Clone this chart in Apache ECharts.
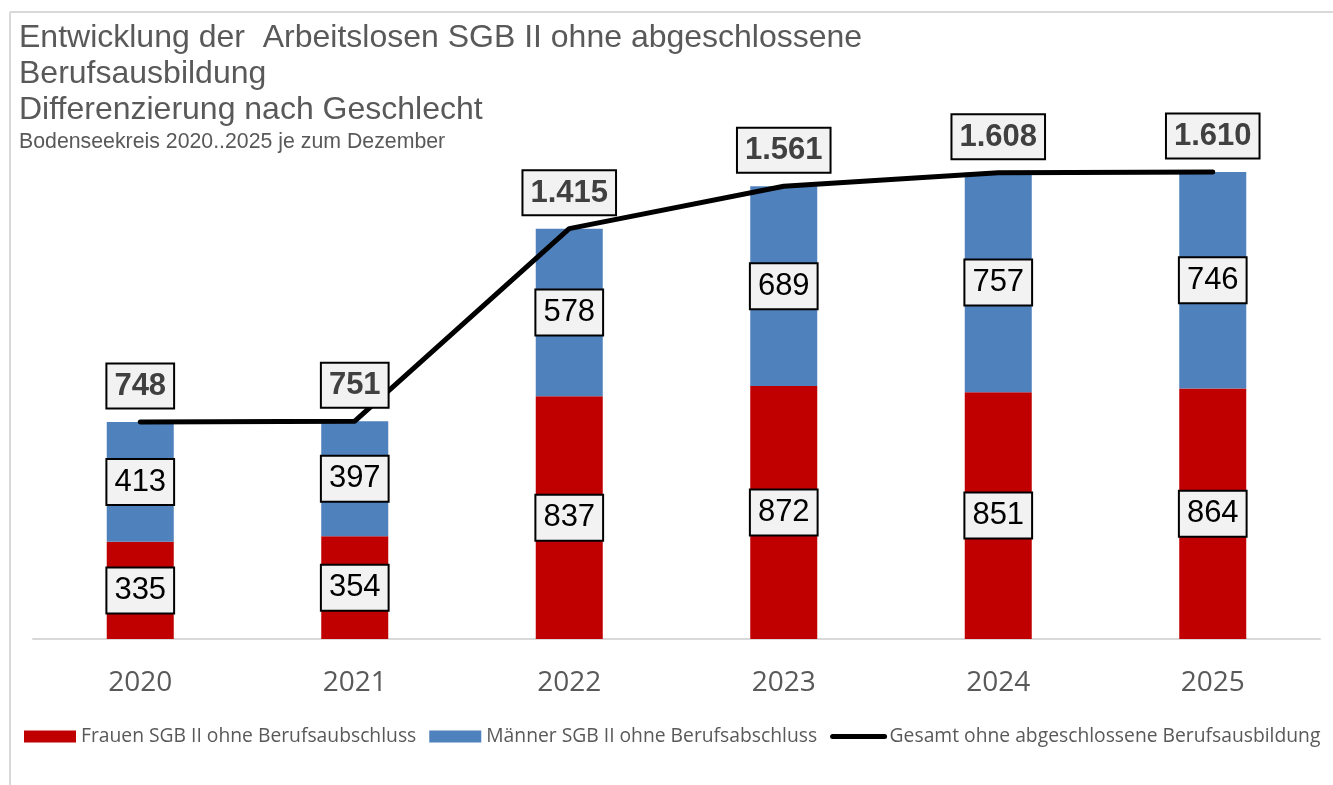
<!DOCTYPE html>
<html>
<head>
<meta charset="UTF-8">
<title>Arbeitslose SGB II ohne Berufsausbildung</title>
<script src="https://cdn.jsdelivr.net/npm/echarts@6/dist/echarts.min.js"></script>
<style>
  html, body { margin: 0; padding: 0; background: #fff; }
  #chart { width: 1333px; height: 785px; }
</style>
</head>
<body>
<div id="chart"></div>
<script>
// Daten je Dezember
var jahre = ['2020', '2021', '2022', '2023', '2024', '2025'];
var frauen = [335, 354, 837, 872, 851, 864];
var maenner = [413, 397, 578, 689, 757, 746];
var gesamt = [748, 751, 1415, 1561, 1608, 1610];

function tausender(v) {
  return String(v).replace(/\B(?=(\d{3})+(?!\d))/g, '.');
}

var boxLabel = {
  show: true,
  position: 'inside',
  color: '#000',
  fontFamily: 'Liberation Sans',
  fontSize: 31,
  lineHeight: 36,
  backgroundColor: '#f2f2f2',
  borderColor: '#000',
  borderWidth: 2,
  padding: [5, 7, 3, 7]
};

var chart = echarts.init(document.getElementById('chart'));
chart.setOption({
  animation: false,
  graphic: [
    { type: 'line', shape: { x1: 10, y1: 12, x2: 1333, y2: 12 }, style: { stroke: '#d9d9d9', lineWidth: 2 }, silent: true },
    { type: 'line', shape: { x1: 10, y1: 12, x2: 10, y2: 785 }, style: { stroke: '#d9d9d9', lineWidth: 2 }, silent: true }
  ],
  title: [{
    text: 'Entwicklung der  Arbeitslosen SGB II ohne abgeschlossene\nBerufsausbildung\nDifferenzierung nach Geschlecht',
    left: 14,
    top: 15,
    textStyle: { color: '#595959', fontFamily: 'Liberation Sans', fontSize: 32, fontWeight: 'normal', lineHeight: 36 }
  }, {
    text: 'Bodenseekreis 2020..2025 je zum Dezember',
    left: 14,
    top: 127,
    textStyle: { color: '#595959', fontFamily: 'Liberation Sans', fontSize: 21.3, fontWeight: 'normal' }
  }],
  legend: {
    left: 24,
    top: 727,
    padding: 0,
    width: 1400,
    itemWidth: 52,
    itemHeight: 12,
    itemGap: 13,
    textStyle: { color: '#595959', fontFamily: 'Open Sans', fontSize: 19.3 },
    data: [
      { name: 'Frauen SGB II ohne Berufsaubschluss', icon: 'rect' },
      { name: 'Männer SGB II ohne Berufsabschluss', icon: 'rect' },
      { name: 'Gesamt ohne abgeschlossene Berufsausbildung', itemStyle: { opacity: 0 }, lineStyle: { width: 5, cap: 'round', color: '#000' } }
    ]
  },
  grid: { left: 33, right: 13, top: 59, bottom: 146 },
  xAxis: {
    type: 'category',
    data: jahre,
    axisLine: { lineStyle: { color: '#d9d9d9', width: 2 } },
    axisTick: { show: false },
    axisLabel: { color: '#595959', fontFamily: 'Open Sans', fontSize: 28, margin: 30 }
  },
  yAxis: {
    type: 'value',
    min: 0,
    max: 2000,
    show: false,
    splitLine: { show: false }
  },
  series: [{
    name: 'Frauen SGB II ohne Berufsaubschluss',
    type: 'bar',
    stack: 'sgb',
    barWidth: 67,
    itemStyle: { color: '#c00000' },
    label: boxLabel,
    data: frauen
  }, {
    name: 'Männer SGB II ohne Berufsabschluss',
    type: 'bar',
    stack: 'sgb',
    barWidth: 67,
    itemStyle: { color: '#4f81bd' },
    label: boxLabel,
    data: maenner
  }, {
    name: 'Gesamt ohne abgeschlossene Berufsausbildung',
    type: 'line',
    symbol: 'circle',
    symbolSize: 1,
    showSymbol: true,
    z: 5,
    lineStyle: { color: '#000', width: 5, cap: 'round', join: 'round' },
    itemStyle: { color: '#000' },
    label: {
      show: true,
      position: 'top',
      distance: 14,
      formatter: function (p) { return tausender(p.value); },
      color: '#404040',
      fontFamily: 'Liberation Sans',
      fontWeight: 'bold',
      fontSize: 31,
      lineHeight: 36,
      backgroundColor: '#f2f2f2',
      borderColor: '#000',
      borderWidth: 2,
      padding: [4, 7, 3, 7]
    },
    data: gesamt
  }]
});
</script>
</body>
</html>
